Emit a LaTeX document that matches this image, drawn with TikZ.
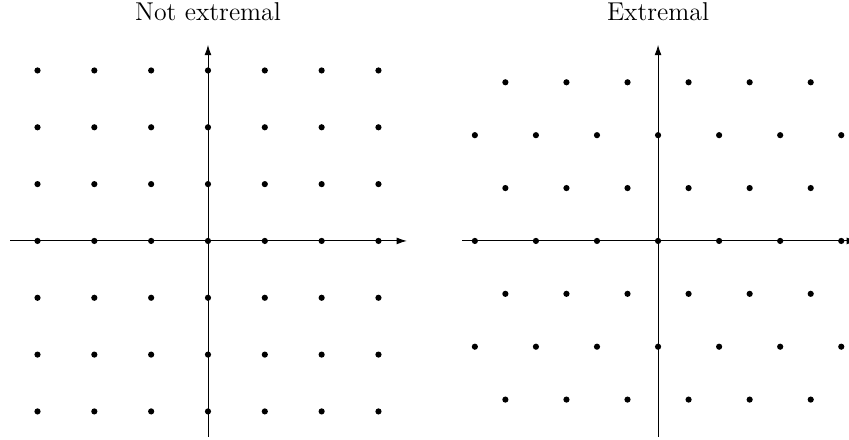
\documentclass[tikz,border=0pt]{standalone}
\usepackage{tikz}
\usetikzlibrary{positioning,arrows.meta}

\begin{document}
\begin{tikzpicture}[>={Latex[length=1.8mm,width=1.2mm]}]
  \tikzstyle{pt}=[fill=black]
  \tikzstyle{axis}=[->,line width=0.45pt]
  \tikzstyle{title}=[font=\fontsize{12.9}{15}\selectfont]
  \useasboundingbox (-3.66,-3.50) rectangle (11.28,4.24);
  % square lattice
  \coordinate (sqW) at (-3.48,0);
  \coordinate (sqE) at (3.50,0);
  \coordinate (sqS) at (0,-3.45);
  \coordinate (sqN) at (0,3.45);
  \draw[axis] (sqW)--(sqE);
  \draw[axis] (sqS)--(sqN);
  \foreach \i in {-3,...,3}
    \foreach \j in {-3,...,3}
      \fill[pt] (\i,\j) circle (1.55pt);
  \node[title] (sqtitle) at (0,4.03) {Not extremal};
  % hexagonal lattice, same covolume
  \begin{scope}[xshift=7.92cm]
    \def\a{1.0746}
    \coordinate (hxW) at (-3.45,0);
    \coordinate (hxE) at (3.50,0);
    \coordinate (hxS) at (0,-3.45);
    \coordinate (hxN) at (0,3.45);
    \draw[axis] (hxW)--(hxE);
    \draw[axis] (hxS)--(hxN);
    \foreach \j in {-2,0,2}
      \foreach \i in {-3,...,3}
        \fill[pt] ({\i*\a},{\j*\a*0.8660}) circle (1.55pt);
    \foreach \j in {-3,-1,1,3}
      \foreach \i in {-3,...,2}
        \fill[pt] ({(\i+0.5)*\a},{\j*\a*0.8660}) circle (1.55pt);
    \node[title] (hxtitle) at (0,4.03) {Extremal};
  \end{scope}
\end{tikzpicture}
\end{document}
